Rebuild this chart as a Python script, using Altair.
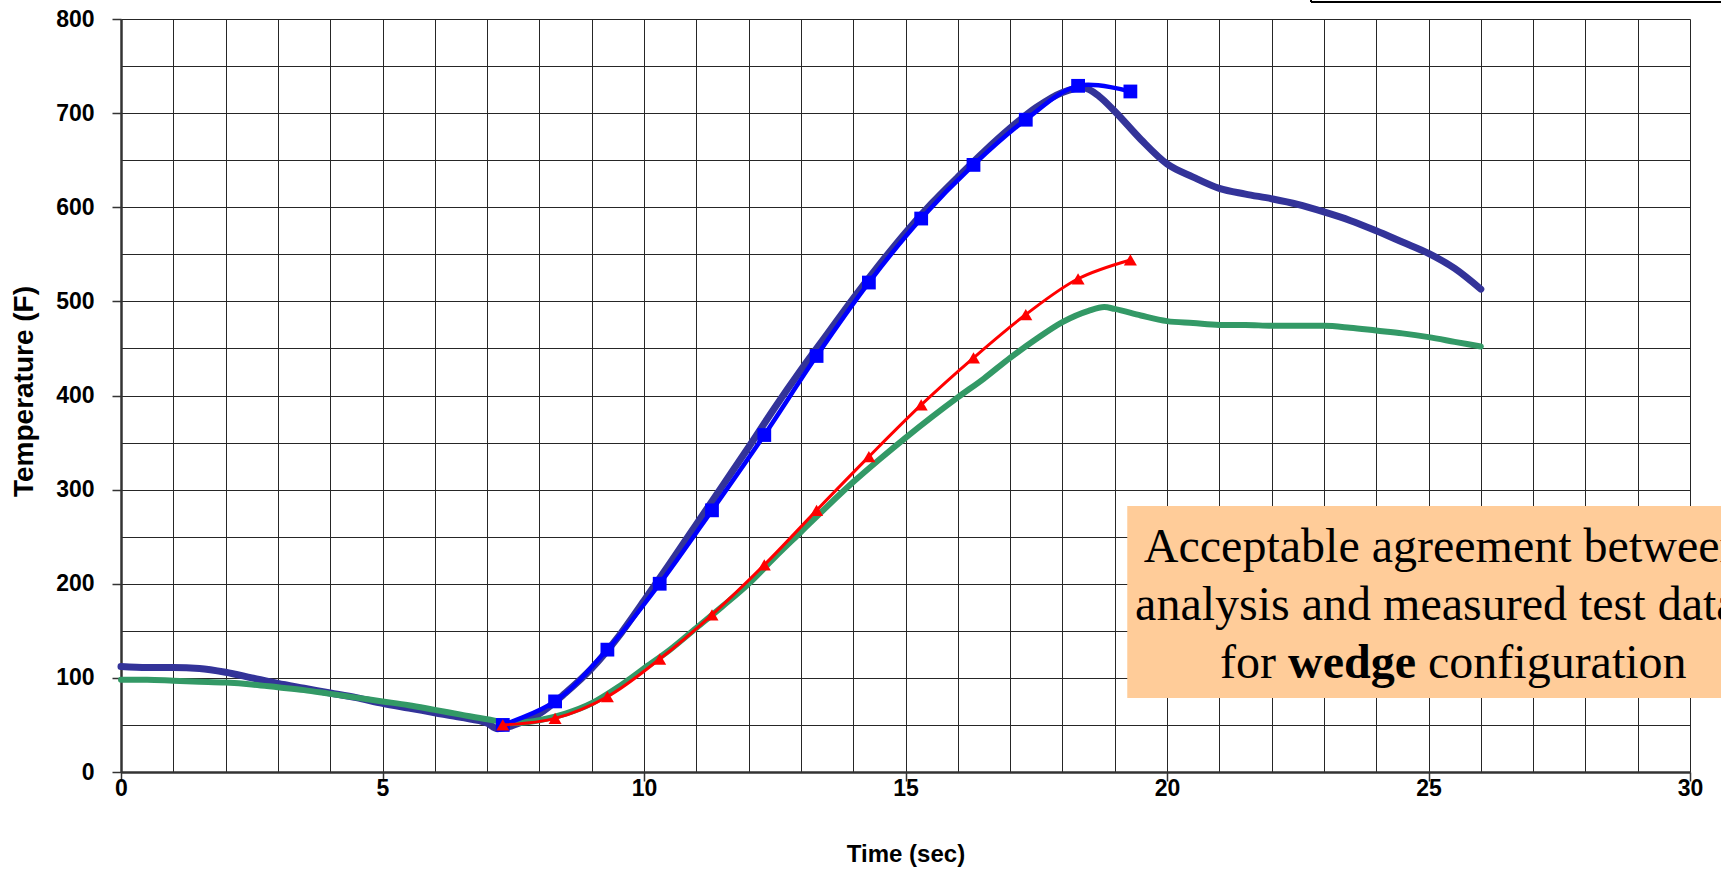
import altair as alt
import pandas as pd

meas_blue_t = [0, 0.5, 1.0, 1.5, 2.0, 2.5, 3.0, 3.5, 4.0, 4.5, 5.0, 5.5, 6.0, 6.5, 7.0, 7.2, 7.4, 7.7,
               8.0, 8.5, 9.0, 9.5, 10.0, 10.5, 11.0, 11.5, 12.0, 12.5, 13.0, 13.5, 14.0, 14.5, 15.0,
               15.5, 16.0, 16.5, 17.0, 17.5, 18.0, 18.4, 18.7, 19.0, 19.5, 20.0, 20.5, 21.0, 21.5,
               22.0, 22.5, 23.0, 23.5, 24.0, 24.5, 25.0, 25.5, 26.0]
meas_blue_v = [112, 111, 111, 110, 106, 100, 94, 89, 84, 79, 73, 68, 63, 58, 52, 46, 48, 54,
               62, 84, 110, 143, 182, 222, 263, 304, 345, 387, 427, 465, 503, 539, 573,
               604, 632, 659, 684, 706, 722, 727, 718, 702, 672, 646, 632, 620, 614,
               609, 603, 595, 586, 575, 563, 551, 535, 513]

meas_green_t = [0, 0.5, 1.0, 1.5, 2.0, 2.5, 3.0, 3.5, 4.0, 4.5, 5.0, 5.5, 6.0, 6.5, 7.0, 7.5,
                8.0, 8.5, 9.0, 9.5, 10.0, 10.5, 11.0, 11.5, 12.0, 12.5, 13.0, 13.5, 14.0, 14.5,
                15.0, 15.5, 16.0, 16.5, 17.0, 17.5, 18.0, 18.5, 18.8, 19.0, 19.5, 20.0, 20.5,
                21.0, 21.5, 22.0, 22.5, 23.0, 23.5, 24.0, 24.5, 25.0, 25.5, 26.0]
meas_green_v = [98, 98, 97, 96, 95, 93, 90, 87, 83, 79, 75, 71, 66, 61, 56, 52,
                55, 62, 73, 90, 110, 130, 153, 176, 200, 228, 255, 282, 308, 332,
                355, 377, 398, 418, 440, 460, 478, 490, 494, 492, 485, 479, 477,
                475, 475, 474, 474, 474, 472, 469, 466, 462, 457, 452]

# ---- analysis data ----
analysis_t = [7.3, 8.3, 9.3, 10.3, 11.3, 12.3, 13.3, 14.3, 15.3, 16.3, 17.3, 18.3, 19.3]
analysis_blue_v = [50, 75, 130, 200, 278, 358, 442, 520, 588, 645, 693, 729, 723]
analysis_red_v = [50, 57, 80, 120, 167, 220, 278, 335, 390, 440, 486, 524, 544]

# ---- annotation ----
note_lines = ["Acceptable agreement between", "analysis and measured test data"]
note_last = ["for", "wedge", "configuration"]

df_mb = pd.DataFrame({"t": meas_blue_t, "v": meas_blue_v})
df_mg = pd.DataFrame({"t": meas_green_t, "v": meas_green_v})
df_ab = pd.DataFrame({"t": analysis_t, "v": analysis_blue_v})
df_ar = pd.DataFrame({"t": analysis_t, "v": analysis_red_v})

FONT = "Liberation Sans"

x_axis = alt.Axis(
    values=list(range(0, 31)),
    labelExpr="datum.value % 5 === 0 ? datum.label : ''",
    labelFlush=False, labelOverlap=False,
    grid=True, gridColor="#262626", gridWidth=1,
    tickColor={"condition": {"test": "datum.value % 5 === 0", "value": "#333333"}, "value": "transparent"},
    tickSize=9, tickWidth=1.5,
    domainColor="#333333", domainWidth=2.5,
    labelFont=FONT, labelFontWeight="bold", labelFontSize=23, labelColor="black", labelPadding=-4,
    title="Time (sec)", titleFont=FONT, titleFontWeight="bold", titleFontSize=24, titleColor="black",
    titleBaseline="alphabetic", titleY=89,
)
y_axis = alt.Axis(
    values=list(range(0, 801, 50)),
    labelExpr="datum.value % 100 === 0 ? datum.label : ''",
    labelOverlap=False,
    grid=True, gridColor="#262626", gridWidth=1,
    tickColor={"condition": {"test": "datum.value % 100 === 0", "value": "#333333"}, "value": "transparent"},
    tickSize=9, tickWidth=1.5,
    domainColor="#333333", domainWidth=2.5,
    labelFont=FONT, labelFontWeight="bold", labelFontSize=23, labelColor="black", labelPadding=18,
    title="Temperature (F)", titleFont=FONT, titleFontWeight="bold", titleFontSize=28, titleColor="black",
    titleAngle=270, titleX=-89, titleY=372, titleBaseline="alphabetic", titleAlign="center",
)

xs = alt.Scale(domain=[0, 30], nice=False, zero=False)
ys = alt.Scale(domain=[0, 800], nice=False)


def X(axis=x_axis):
    return alt.X("t:Q", scale=xs, axis=axis)


def Y(axis=y_axis):
    return alt.Y("v:Q", scale=ys, axis=axis)


# annotation box (data units)
box_df = pd.DataFrame({"x1": [19.24], "x2": [33.0], "y1": [78.6], "y2": [282.6]})
box = alt.Chart(box_df).mark_rect(color="#FFCC99").encode(
    x=alt.X("x1:Q", scale=xs, axis=x_axis), x2="x2:Q",
    y=alt.Y("y1:Q", scale=ys, axis=y_axis), y2="y2:Q")

line_mb = alt.Chart(df_mb).mark_line(color="#333399", strokeWidth=7, interpolate="monotone",
                                     strokeCap="round").encode(x=X(), y=Y())
line_mg = alt.Chart(df_mg).mark_line(color="#339966", strokeWidth=6, interpolate="monotone",
                                     strokeCap="round").encode(x=X(), y=Y())
line_ab = alt.Chart(df_ab).mark_line(color="#0000FF", strokeWidth=4.5,
                                     interpolate="catmull-rom").encode(x=X(), y=Y())
pts_ab = alt.Chart(df_ab).mark_point(shape="square", filled=True, color="#0000FF", size=190,
                                     opacity=1).encode(x=X(), y=Y())
line_ar = alt.Chart(df_ar).mark_line(color="#FF0000", strokeWidth=3,
                                     interpolate="catmull-rom").encode(x=X(), y=Y())
pts_ar = alt.Chart(df_ar).mark_point(shape="triangle-up", filled=True, color="#FF0000", size=170,
                                     opacity=1).encode(x=X(), y=Y())

# annotation text (data units)
txt_df = pd.DataFrame({"x": [25.29, 25.15], "y": [223.1, 161.5], "s": note_lines})
txt = alt.Chart(txt_df).mark_text(font="Liberation Serif", fontSize=48, align="center",
                                  baseline="alphabetic", color="black").encode(
    x=alt.X("x:Q", scale=xs, axis=x_axis), y=alt.Y("y:Q", scale=ys, axis=y_axis), text="s:N")

px = 52.3  # pixels per second, used only to place the last annotation line pieces
w_center = 1450 - 233 + 68 + 64 + 3
last_df = pd.DataFrame({
    "x": [(w_center - 64 - 12 - 121) / px, (w_center - 121) / px, (w_center + 64 + 12 - 121) / px],
    "y": [99.9, 99.9, 99.9],
    "s": note_last,
})
t_for = alt.Chart(last_df.iloc[[0]]).mark_text(font="Liberation Serif", fontSize=48, align="right",
                                               baseline="alphabetic", color="black").encode(
    x=alt.X("x:Q", scale=xs, axis=x_axis), y=alt.Y("y:Q", scale=ys, axis=y_axis), text="s:N")
t_wedge = alt.Chart(last_df.iloc[[1]]).mark_text(font="Liberation Serif", fontSize=48, align="center",
                                                 fontWeight="bold", baseline="alphabetic",
                                                 color="black").encode(
    x=alt.X("x:Q", scale=xs, axis=x_axis), y=alt.Y("y:Q", scale=ys, axis=y_axis), text="s:N")
t_conf = alt.Chart(last_df.iloc[[2]]).mark_text(font="Liberation Serif", fontSize=48, align="left",
                                                baseline="alphabetic", color="black").encode(
    x=alt.X("x:Q", scale=xs, axis=x_axis), y=alt.Y("y:Q", scale=ys, axis=y_axis), text="s:N")

# cropped legend frame at the top edge (decoration)
leg_h = alt.Chart(pd.DataFrame({"a": [0]})).mark_rule(color="black", strokeWidth=2).encode(
    x=alt.value(1190), x2=alt.value(1650), y=alt.value(-17))
leg_v = alt.Chart(pd.DataFrame({"a": [0]})).mark_rule(color="black", strokeWidth=2).encode(
    x=alt.value(1190), y=alt.value(-25), y2=alt.value(-17))

chart = alt.layer(
    box, line_mb, line_mg, line_ab, pts_ab, line_ar, pts_ar, txt, t_for, t_wedge, t_conf, leg_h, leg_v
).properties(
    width=1569, height=753,
    autosize=alt.AutoSizeParams(type="none"),
    padding={"left": 121, "top": 19, "right": 31, "bottom": 102},
).configure_view(
    stroke="#8c8c8c", strokeWidth=3
).configure(background="white")

chart.save("out.html", embed_options={"renderer": "svg", "actions": False})
